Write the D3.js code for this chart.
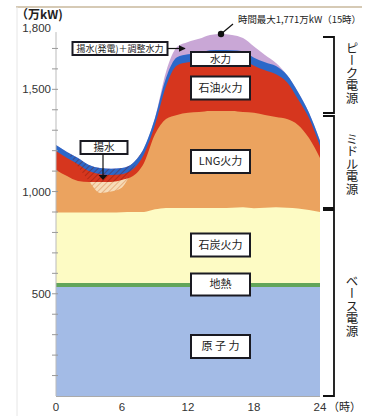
<!DOCTYPE html>
<html>
<head>
<meta charset="utf-8">
<script src="https://cdn.jsdelivr.net/npm/d3@7"></script>
<style>
  html, body { margin: 0; padding: 0; background: #fff; }
  svg { display: block; }
  .num { font-family: "Liberation Sans", Arial, sans-serif; fill: #333; }
  .jp { font-family: "Noto Sans CJK JP", "Noto Sans", sans-serif; fill: #222; }
</style>
</head>
<body>
<svg id="chart" width="372" height="416"></svg>
<script>
// Hourly supply mix on the peak day (万kW), stacked from the base up
const hours      = [0,1,2,3,4,5,6,7,8,9,10,11,12,13,14,15,16,17,18,19,20,21,22,23,24];
const nuclear    = [533,533,533,533,533,533,533,533,533,533,533,533,533,533,533,533,533,533,533,533,533,533,533,533,533];
const geothermal = [20,20,20,20,20,20,20,20,20,20,20,20,20,20,20,20,20,20,20,20,20,20,20,20,20];
const coal       = [344,344,344,345,345,345,346,347,347,360,367,367,367,367,367,367,368,370,365,368,370,368,364,357,347];
const lng        = [209,179,155,149,149,149,158,176,240,367,435,455,465,469,474,474,473,466,467,454,442,434,409,352,264];
const oil        = [92,88,82,53,38,34,28,34,43,45,160,242,247,248,257,259,257,257,230,218,209,180,126,98,59];
const hydro      = [30,30,30,30,30,30,30,30,30,35,40,40,40,40,40,40,40,40,40,40,40,35,35,25,25];
const pumpedAdj  = [0,0,0,0,0,0,0,0,0,0,30,50,60,70,75,78,75,65,55,35,15,0,0,0,0];
// Night-time pumping load (揚水) included in the stack top
const pumping    = [0,0,44,80,122,111,95,30,0,0,0,0,0,0,0,0,0,0,0,0,0,0,0,0,0];

const xTicks = [0,6,12,18,24];
const yLabels = [500,1000,1500,1800];
const peakHour = 15, peakValue = 1771;

const layers = [
  {key:"nuclear",    name:"原 子 力", values:nuclear,    color:"#a3bbe6"},
  {key:"geothermal", name:"地熱",     values:geothermal, color:"#62a55a"},
  {key:"coal",       name:"石炭火力", values:coal,       color:"#fdfbc4"},
  {key:"lng",        name:"LNG火力",  values:lng,        color:"#eba35f"},
  {key:"oil",        name:"石油火力", values:oil,        color:"#d6361e"},
  {key:"hydro",      name:"水力",     values:hydro,      color:"#2c68c9"},
  {key:"pumpedAdj",  name:"揚水(発電)＋調整水力", values:pumpedAdj, color:"#c9a7d6"}
];

const rows = hours.map((h,i) => {
  const r = {hour:h};
  layers.forEach(l => r[l.key] = l.values[i]);
  return r;
});

const stack = d3.stack().keys(layers.map(l => l.key));
const series = stack(rows);

const svg = d3.select("#chart");
const x = d3.scaleLinear().domain([0,24]).range([56,320]);
const y = d3.scaleLinear().domain([0,1800]).range([396,28]);
const curve = d3.curveMonotoneX;

// frame lines of the page
svg.append("line").attr("x1",16).attr("x2",362).attr("y1",7).attr("y2",7)
  .attr("stroke","#c9b99c").attr("stroke-width",1.5);
svg.append("line").attr("x1",17).attr("x2",17).attr("y1",7).attr("y2",416)
  .attr("stroke","#e6e6e6").attr("stroke-width",1);

// Filled layers: each drawn from the baseline to its cumulative top, top layer first
const plot = svg.append("g");
series.slice().reverse().forEach(s => {
  const l = layers.find(d => d.key === s.key);
  plot.append("path")
    .datum(s)
    .attr("fill", l.color)
    .attr("d", d3.area().x(d => x(d.data.hour)).y0(y(0)).y1(d => y(d[1])).curve(curve));
});

// Hatched pumping region between the stack top and the demand line
const total = series[series.length-1].map(d => d[1]);
const lngTop = series[3].map(d => d[1]);
const hatchData = hours.map((h,i) => ({hour:h, top:total[i], bottom:total[i]-pumping[i], lngTop:lngTop[i]}))
  .filter(d => d.hour >= 1 && d.hour <= 8);

const defs = svg.append("defs");
const pat = defs.append("pattern").attr("id","hatch").attr("patternUnits","userSpaceOnUse")
  .attr("width",4).attr("height",4).attr("patternTransform","rotate(45)");
pat.append("line").attr("x1",0).attr("y1",0).attr("x2",0).attr("y2",4)
  .attr("stroke","#6e1208").attr("stroke-width",1).attr("stroke-opacity",0.75);
const pat2 = defs.append("pattern").attr("id","hatch2").attr("patternUnits","userSpaceOnUse")
  .attr("width",4).attr("height",4).attr("patternTransform","rotate(45)");
pat2.append("rect").attr("width",4).attr("height",4).attr("fill","#f7dcb8");
pat2.append("line").attr("x1",0).attr("y1",0).attr("x2",0).attr("y2",4)
  .attr("stroke","#d9864a").attr("stroke-width",1);

const hatchArea = d3.area().x(d => x(d.hour)).y0(d => y(d.bottom)).y1(d => y(d.top)).curve(curve);
defs.append("clipPath").attr("id","pumpClip").append("path").datum(hatchData).attr("d", hatchArea);
const hatchG = svg.append("g").attr("clip-path","url(#pumpClip)");
hatchG.append("path").datum(hatchData).attr("fill","url(#hatch)").attr("d", hatchArea);
hatchG.append("path").datum(hatchData).attr("fill","url(#hatch2)")
  .attr("d", d3.area().x(d => x(d.hour)).y0(y(0)).y1(d => y(d.lngTop)).curve(curve));

// Axes
const yAxisG = svg.append("g").attr("transform",`translate(${x(0)},0)`);
yAxisG.append("line").attr("x1",0).attr("x2",0).attr("y1",y(1780)).attr("y2",y(0))
  .attr("stroke","#bbb").attr("stroke-width",1);
const yTicks = d3.range(100,1800,100);
yAxisG.selectAll("line.tick").data(yTicks).join("line").attr("class","tick")
  .attr("x1",-4).attr("x2",2).attr("y1",d => y(d)).attr("y2",d => y(d))
  .attr("stroke","#999").attr("stroke-width",1);
svg.selectAll("text.ylab").data(yLabels).join("text").attr("class","ylab num")
  .attr("x",51).attr("y",d => y(d)+4).attr("text-anchor","end")
  .attr("font-size",11.5).text(d => d3.format(",")(d));
svg.append("text").attr("class","jp").attr("x",16).attr("y",19)
  .attr("font-size",12).attr("font-weight","bold").attr("fill","#333").text("（万kW)");

svg.append("line").attr("x1",x(0)).attr("x2",x(24)).attr("y1",y(0)+0.5).attr("y2",y(0)+0.5)
  .attr("stroke","#aaa").attr("stroke-width",1);
svg.selectAll("text.xlab").data(xTicks).join("text").attr("class","xlab num")
  .attr("x",d => x(d)).attr("y",411).attr("text-anchor","middle")
  .attr("font-size",11.5).text(d => d);
svg.append("text").attr("class","jp").attr("x",328).attr("y",411)
  .attr("font-size",11).attr("fill","#333").text("（時）");

// Label boxes
function box(cx, cy, w, h, label, fs) {
  const g = svg.append("g");
  g.append("rect").attr("x",cx - w/2).attr("y",cy - h/2).attr("width",w).attr("height",h)
    .attr("fill","#fff").attr("stroke","#1a1a22").attr("stroke-width",2);
  g.append("text").attr("class","jp").attr("x",cx).attr("y",cy + fs*0.36)
    .attr("text-anchor","middle").attr("font-size",fs).text(label);
  return g;
}
const bx = 220.5;
box(bx, 59, 59, 14, "水力", 10.5);
box(bx, 88, 59, 23, "石油火力", 11);
box(bx, 161.5, 59, 23, "LNG火力", 11);
box(bx, 245, 59, 23, "石炭火力", 11);
box(bx, 284.5, 59, 22, "地熱", 11);
box(bx, 346.5, 59, 23, "原 子 力", 11);

// Pumped-generation callout with arrow
defs.append("marker").attr("id","arrowR").attr("viewBox","0 0 10 10").attr("refX",9).attr("refY",5)
  .attr("markerWidth",6).attr("markerHeight",6).attr("orient","auto")
  .append("path").attr("d","M0,0 L10,5 L0,10 Z").attr("fill","#111");
box(120, 48.5, 95, 13, "揚水(発電)＋調整水力", 9);
svg.append("line").attr("x1",167.5).attr("x2",185).attr("y1",48.5).attr("y2",48.5)
  .attr("stroke","#111").attr("stroke-width",1.2).attr("marker-end","url(#arrowR)");

// Pumping callout
box(104, 147.5, 47, 13, "揚水", 10.5);
svg.append("line").attr("x1",103).attr("x2",103).attr("y1",154).attr("y2",176)
  .attr("stroke","#111").attr("stroke-width",1.2);
svg.append("path").attr("d","M98.5,175 L107.5,175 L103,180 Z").attr("fill","#111");

// Peak marker
svg.append("circle").attr("cx",x(peakHour)).attr("cy",y(peakValue)).attr("r",3.2).attr("fill","#111");
svg.append("line").attr("x1",x(peakHour)).attr("y1",y(peakValue))
  .attr("x2",x(peakHour)+12).attr("y2",y(peakValue)-10).attr("stroke","#111").attr("stroke-width",1.2);
svg.append("text").attr("class","jp").attr("x",238).attr("y",22.5).attr("font-size",9.5)
  .attr("textLength",123).attr("lengthAdjust","spacingAndGlyphs")
  .text(`時間最大${d3.format(",")(peakValue)}万kW（${peakHour}時）`);

// Source-type brackets
const brackets = [
  {label:"ピーク電源", y0:37,  y1:113, ty:73},
  {label:"ミドル電源", y0:116, y1:208, ty:164},
  {label:"ベース電源", y0:210, y1:396, ty:306}
];
brackets.forEach(b => {
  svg.append("path").attr("d",`M323,${b.y0} H334 V${b.y1} H323`)
    .attr("fill","none").attr("stroke","#111").attr("stroke-width",1.8);
  svg.append("text").attr("class","jp").attr("x",352).attr("y",b.ty)
    .attr("font-size",12.5).attr("text-anchor","middle").attr("fill","#333")
    .style("writing-mode","vertical-rl").style("glyph-orientation-vertical","0")
    .text(b.label);
});
</script>
</body>
</html>
